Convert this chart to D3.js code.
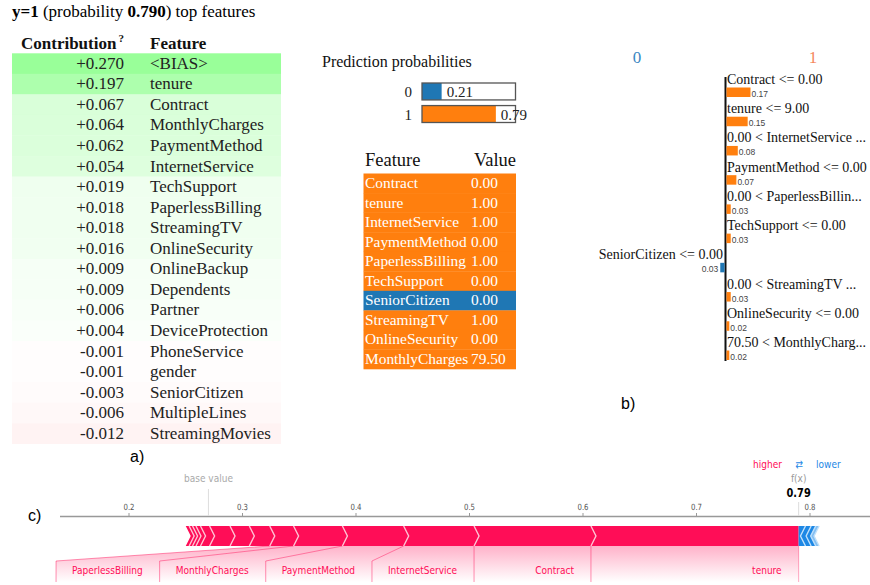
<!DOCTYPE html>
<html>
<head>
<meta charset="utf-8">
<script src="https://cdn.jsdelivr.net/npm/d3@7"></script>
<style>
  html, body { margin: 0; padding: 0; background: #fff; }
  svg { display: block; }
</style>
</head>
<body>
<svg id="chart" width="870" height="585"></svg>
<script>
// ---------------- DATA ----------------
// a) eli5 contributions
const contribFeatures = ["<BIAS>", "tenure", "Contract", "MonthlyCharges", "PaymentMethod", "InternetService",
  "TechSupport", "PaperlessBilling", "StreamingTV", "OnlineSecurity", "OnlineBackup", "Dependents", "Partner",
  "DeviceProtection", "PhoneService", "gender", "SeniorCitizen", "MultipleLines", "StreamingMovies"];
const contribValues = [0.270, 0.197, 0.067, 0.064, 0.062, 0.054, 0.019, 0.018, 0.018, 0.016, 0.009, 0.009, 0.006,
  0.004, -0.001, -0.001, -0.003, -0.006, -0.012];

// LIME prediction probabilities
const probClasses = ["0", "1"];
const probValues = [0.21, 0.79];

// LIME feature / value table
const valueFeatures = ["Contract", "tenure", "InternetService", "PaymentMethod", "PaperlessBilling", "TechSupport",
  "SeniorCitizen", "StreamingTV", "OnlineSecurity", "MonthlyCharges"];
const valueValues = ["0.00", "1.00", "1.00", "0.00", "1.00", "0.00", "0.00", "1.00", "0.00", "79.50"];

// b) LIME explanation
const limeClasses = ["0", "1"];
const limeRules = ["Contract <= 0.00", "tenure <= 9.00", "0.00 < InternetService ...", "PaymentMethod <= 0.00",
  "0.00 < PaperlessBillin...", "TechSupport <= 0.00", "SeniorCitizen <= 0.00", "0.00 < StreamingTV ...",
  "OnlineSecurity <= 0.00", "70.50 < MonthlyCharg..."];
const limeWeights = [0.17, 0.15, 0.08, 0.07, 0.03, 0.03, -0.03, 0.03, 0.02, 0.02];

// c) SHAP force plot
const shapBase = 0.27;
const shapFx = 0.79;
const shapPosNames = ["tenure", "Contract", "InternetService", "PaymentMethod", "MonthlyCharges", "PaperlessBilling",
  "TechSupport", "StreamingTV", "OnlineSecurity", "OnlineBackup", "Dependents", "Partner", "DeviceProtection", "SeniorCitizen"];
const shapPosValues = [0.183, 0.103, 0.062, 0.054, 0.043, 0.021, 0.018, 0.017, 0.018, 0.008, 0.004, 0.003, 0.003, 0.003];
const shapNegNames = ["StreamingMovies", "MultipleLines", "gender", "PhoneService"];
const shapNegValues = [0.006, 0.005, 0.004, 0.003];
const shapTicks = [0.2, 0.3, 0.4, 0.5, 0.6, 0.7, 0.8];
const shapLabelMin = 0.02;

// ---------------- DRAWING ----------------
const svg = d3.select("#chart");
const SERIF = "'Liberation Serif', 'Times New Roman', serif";
const SANS = "'Liberation Sans', Arial, sans-serif";
const DEJAVU = "'DejaVu Sans', sans-serif";
const BLUE = "#1f77b4", ORANGE = "#ff7f0e";

// ===== Panel a =====
const gA = svg.append("g");
const title = gA.append("text").attr("x", 12).attr("y", 17)
  .attr("font-family", SERIF).attr("font-size", 17).attr("fill", "#000");
title.append("tspan").attr("font-weight", "bold").text("y=1");
title.append("tspan").text(" (probability ");
title.append("tspan").attr("font-weight", "bold").text("0.790");
title.append("tspan").text(") top features");

const hdr = gA.append("text").attr("x", 21).attr("y", 49)
  .attr("font-family", SERIF).attr("font-size", 17).attr("font-weight", "bold").attr("fill", "#111");
hdr.append("tspan").text("Contribution");
hdr.append("tspan").attr("font-size", 11).attr("dy", -7).attr("dx", 2).text("?");
gA.append("text").attr("x", 150).attr("y", 49)
  .attr("font-family", SERIF).attr("font-size", 17).attr("font-weight", "bold").attr("fill", "#111")
  .text("Feature");

const rowA = d3.scaleBand().domain(d3.range(contribValues.length)).range([53.3, 53.3 + 20.55 * contribValues.length]).padding(0);
const maxW = d3.max(contribValues, v => Math.abs(v));
const lightness = v => 100 - 20 * Math.pow(Math.abs(v) / maxW, 0.7);
const fmtContrib = v => (v >= 0 ? "+" : "-") + Math.abs(v).toFixed(3);

const rowsA = gA.selectAll("g.rowA").data(contribValues).join("g").attr("class", "rowA");
rowsA.append("rect").attr("x", 12).attr("y", (d, i) => rowA(i)).attr("width", 269).attr("height", rowA.bandwidth() + 0.3)
  .attr("fill", d => `hsl(${d >= 0 ? 120 : 0}, 100%, ${lightness(d)}%)`);
rowsA.append("text").attr("x", 124).attr("y", (d, i) => rowA(i) + 15.5).attr("text-anchor", "end")
  .attr("font-family", SERIF).attr("font-size", 17).attr("fill", "#222").text(d => fmtContrib(d));
rowsA.append("text").attr("x", 150).attr("y", (d, i) => rowA(i) + 15.5)
  .attr("font-family", SERIF).attr("font-size", 17).attr("fill", "#222").text((d, i) => contribFeatures[i]);

gA.append("text").attr("x", 130).attr("y", 462).attr("font-family", SANS).attr("font-size", 16).text("a)");

// ===== Middle panel: prediction probabilities =====
const gM = svg.append("g");
gM.append("text").attr("x", 322).attr("y", 67).attr("font-family", SERIF).attr("font-size", 16).attr("fill", "#111")
  .text("Prediction probabilities");
const probX = d3.scaleLinear().domain([0, 1]).range([422, 515.5]);
const probY = d3.scaleBand().domain(probClasses).range([83, 122.5]).paddingInner(0.25);
const probColor = d3.scaleOrdinal().domain(probClasses).range([BLUE, ORANGE]);
const pr = gM.selectAll("g.prob").data(probValues).join("g").attr("class", "prob");
pr.append("rect").attr("x", probX(0)).attr("y", (d, i) => probY(probClasses[i]))
  .attr("width", (d, i) => probX(d) - probX(0)).attr("height", probY.bandwidth())
  .attr("fill", (d, i) => probColor(probClasses[i]));
pr.append("rect").attr("x", probX(0)).attr("y", (d, i) => probY(probClasses[i]))
  .attr("width", probX(1) - probX(0)).attr("height", probY.bandwidth())
  .attr("fill", "none").attr("stroke", "#555").attr("stroke-width", 1.3);
pr.append("text").attr("x", d => probX(d) + 5).attr("y", (d, i) => probY(probClasses[i]) + 14)
  .attr("font-family", SERIF).attr("font-size", 15).attr("fill", "#222").text(d => d.toFixed(2));
pr.append("text").attr("x", 412).attr("y", (d, i) => probY(probClasses[i]) + 14).attr("text-anchor", "end")
  .attr("font-family", SERIF).attr("font-size", 15).attr("fill", "#222").text((d, i) => probClasses[i]);

// Feature / Value table
gM.append("text").attr("x", 365).attr("y", 166).attr("font-family", SERIF).attr("font-size", 18.5).attr("fill", "#111").text("Feature");
gM.append("text").attr("x", 516).attr("y", 166).attr("text-anchor", "end").attr("font-family", SERIF).attr("font-size", 18.5).attr("fill", "#111").text("Value");
const rowV = d3.scaleBand().domain(d3.range(valueFeatures.length)).range([173.5, 369]);
const vr = gM.selectAll("g.vrow").data(valueFeatures).join("g").attr("class", "vrow");
vr.append("rect").attr("x", 363.5).attr("y", (d, i) => rowV(i)).attr("width", 152.5).attr("height", rowV.bandwidth() + 0.3)
  .attr("fill", (d, i) => limeWeights[limeRules.findIndex(r => r.includes(d))] < 0 ? BLUE : ORANGE);
vr.append("text").attr("x", 365).attr("y", (d, i) => rowV(i) + 14.5)
  .attr("font-family", SERIF).attr("font-size", 15.4).attr("fill", "#fff").text(d => d);
vr.append("text").attr("x", 471).attr("y", (d, i) => rowV(i) + 14.5)
  .attr("font-family", SERIF).attr("font-size", 15.4).attr("fill", "#fff").text((d, i) => valueValues[i]);

// ===== Panel b: LIME explanation =====
const gB = svg.append("g");
const axisX = 725.5;
gB.append("text").attr("x", 637).attr("y", 63).attr("text-anchor", "middle").attr("font-family", SERIF).attr("font-size", 17)
  .attr("fill", "#3a87c2").text(limeClasses[0]);
gB.append("text").attr("x", 813).attr("y", 63).attr("text-anchor", "middle").attr("font-family", SERIF).attr("font-size", 17)
  .attr("fill", "#f5875e").text(limeClasses[1]);
const rowB = d3.scalePoint().domain(d3.range(limeRules.length)).range([84, 347]);
const wScale = d3.scaleLinear().domain([0, d3.max(limeWeights, w => Math.abs(w))]).range([0, 24]);
gB.append("line").attr("x1", axisX).attr("x2", axisX).attr("y1", 77).attr("y2", 361).attr("stroke", "#111").attr("stroke-width", 2);
const lr = gB.selectAll("g.lrow").data(limeWeights).join("g").attr("class", "lrow");
lr.append("text")
  .attr("x", d => d >= 0 ? axisX + 1.5 : axisX - 2.5)
  .attr("y", (d, i) => rowB(i))
  .attr("text-anchor", d => d >= 0 ? "start" : "end")
  .attr("font-family", SERIF).attr("font-size", 14).attr("fill", "#111").text((d, i) => limeRules[i]);
lr.append("rect")
  .attr("x", d => d >= 0 ? axisX + 1 : axisX - 1 - wScale(-d))
  .attr("y", (d, i) => rowB(i) + 3.5).attr("height", 9.5)
  .attr("width", d => wScale(Math.abs(d)))
  .attr("fill", d => d >= 0 ? ORANGE : BLUE);
lr.append("text")
  .attr("x", d => d >= 0 ? axisX + 2 + wScale(d) : axisX - 3 - wScale(-d))
  .attr("y", (d, i) => rowB(i) + 13)
  .attr("text-anchor", d => d >= 0 ? "start" : "end")
  .attr("font-family", SANS).attr("font-size", 8.5).attr("fill", "#444").text(d => Math.abs(d).toFixed(2));
gB.append("text").attr("x", 621).attr("y", 409).attr("font-family", SANS).attr("font-size", 16).text("b)");

// ===== Panel c: SHAP force plot =====
const gC = svg.append("g");
const SQ = 0.82;
const sx = d3.scaleLinear().domain([0.2, 0.8]).range([129, 810]);
const barTop = 526, barBot = 546, barMid = (barTop + barBot) / 2, chev = 5;
const PINK = "#ff0d57", SBLUE = "#1e88e5";

const defs = svg.append("defs");
const grad = defs.append("linearGradient").attr("id", "lblGrad").attr("x1", 0).attr("y1", 0).attr("x2", 0).attr("y2", 1);
grad.append("stop").attr("offset", "0%").attr("stop-color", PINK).attr("stop-opacity", 0.32);
grad.append("stop").attr("offset", "100%").attr("stop-color", PINK).attr("stop-opacity", 0);

function sqText(g, x, y, str, opts) {
  const t = g.append("text").attr("transform", `translate(${x},${y}) scale(${SQ},1)`)
    .attr("font-family", DEJAVU).attr("font-size", opts.size || 11).attr("fill", opts.fill || "#333")
    .attr("text-anchor", opts.anchor || "middle");
  if (opts.weight) t.attr("font-weight", opts.weight);
  t.text(str);
  return t;
}

// axis
gC.append("line").attr("x1", 60).attr("x2", 870).attr("y1", 516.5).attr("y2", 516.5).attr("stroke", "#999").attr("stroke-width", 1.5);
shapTicks.forEach(t => {
  gC.append("line").attr("x1", sx(t)).attr("x2", sx(t)).attr("y1", 513).attr("y2", 516.5).attr("stroke", "#999").attr("stroke-width", 1);
  sqText(gC, sx(t), 509.5, t.toFixed(1), { size: 8.5, fill: "#555" });
});
// base value
gC.append("line").attr("x1", sx(shapBase)).attr("x2", sx(shapBase)).attr("y1", 489).attr("y2", 516).attr("stroke", "#ddd").attr("stroke-width", 1);
sqText(gC, sx(shapBase), 482, "base value", { size: 11, fill: "#aaa" });
// f(x)
gC.append("line").attr("x1", sx(shapFx)).attr("x2", sx(shapFx)).attr("y1", 502).attr("y2", 516).attr("stroke", "#ddd").attr("stroke-width", 1);
sqText(gC, sx(shapFx), 482, "f(x)", { size: 11, fill: "#999" });
sqText(gC, sx(shapFx), 497, shapFx.toFixed(2), { size: 12, fill: "#000", weight: "bold" });
sqText(gC, 782, 468, "higher", { size: 11, fill: PINK, anchor: "end" });
sqText(gC, 799, 468, "\u21c4", { size: 11, fill: SBLUE });
sqText(gC, 816, 468, "lower", { size: 11, fill: SBLUE, anchor: "start" });

// positive segments (from f(x) leftwards)
const posSegs = [];
let cur = shapFx;
shapPosValues.forEach((v, i) => {
  posSegs.push({ name: shapPosNames[i], value: v, hi: cur, lo: cur - v, idx: i });
  cur -= v;
});
// negative segments (from f(x) rightwards)
const negSegs = [];
cur = shapFx;
shapNegValues.forEach((v, i) => {
  negSegs.push({ name: shapNegNames[i], value: v, lo: cur, hi: cur + v, idx: i });
  cur += v;
});

// label regions first (under the bar)
const gLbl = gC.append("g");
let prevLeft = sx(shapFx);
posSegs.filter(s => s.value > shapLabelMin).forEach(s => {
  const segL = sx(s.lo), segR = sx(s.hi);
  const boxR = Math.min(segR, prevLeft);
  const t = sqText(gLbl, boxR - 17, 574, s.name, { size: 11, fill: PINK, anchor: "end" });
  const tw = t.node().getComputedTextLength() * SQ;
  const boxL = Math.min(segL, boxR - tw - 33);
  const lblTop = 561, lblBot = 582;
  gLbl.insert("path", "text")
    .attr("d", `M${segL},${barBot} L${segR},${barBot} L${boxR},${boxL === segL && boxR === segR ? barBot : lblTop} L${boxR},${lblBot} L${boxL},${lblBot} L${boxL},${boxL === segL ? barBot : lblTop} Z`)
    .attr("fill", "url(#lblGrad)").attr("stroke", "none");
  gLbl.insert("path", "text")
    .attr("d", `M${segL},${barBot} L${boxL},${boxL === segL ? barBot : lblTop} L${boxL},${lblBot}`)
    .attr("fill", "none").attr("stroke", PINK).attr("stroke-opacity", 0.45).attr("stroke-width", 1);
  if (s.idx === 0) {
    gLbl.insert("path", "text").attr("d", `M${segR},${barBot} L${boxR},${lblBot}`)
      .attr("fill", "none").attr("stroke", PINK).attr("stroke-opacity", 0.35).attr("stroke-width", 1);
  }
  prevLeft = boxL;
});

// positive polygons
const gBar = gC.append("g");
posSegs.forEach(s => {
  const a = sx(s.lo), b = sx(s.hi);
  const rightTip = s.idx === 0 ? `L${b},${barBot}` : `L${b + chev},${barMid} L${b},${barBot}`;
  gBar.append("path")
    .attr("d", `M${a},${barTop} L${b},${barTop} ${rightTip} L${a},${barBot} L${a + chev},${barMid} Z`)
    .attr("fill", PINK);
});
posSegs.forEach(s => {
  if (s.idx === 0) return;
  const b = sx(s.hi);
  gBar.append("path").attr("d", `M${b},${barTop} L${b + chev},${barMid} L${b},${barBot}`)
    .attr("fill", "none").attr("stroke", "#ffc2d3").attr("stroke-width", 1.4);
});
// negative polygons
negSegs.forEach(s => {
  const a = sx(s.lo), b = sx(s.hi);
  const leftTip = s.idx === 0 ? `L${a},${barTop}` : `L${a - chev},${barMid} L${a},${barTop}`;
  gBar.append("path")
    .attr("d", `M${a},${barBot} ${leftTip} L${b},${barTop} L${b - chev},${barMid} L${b},${barBot} Z`)
    .attr("fill", SBLUE).attr("fill-opacity", s.idx === negSegs.length - 1 ? 0.55 : 1);
});
negSegs.forEach(s => {
  const b = sx(s.hi);
  gBar.append("path").attr("d", `M${b},${barTop} L${b - chev},${barMid} L${b},${barBot}`)
    .attr("fill", "none").attr("stroke", "#bfe0fb").attr("stroke-width", 1.4);
});

gC.append("text").attr("x", 28).attr("y", 521).attr("font-family", SANS).attr("font-size", 16).text("c)");
</script>
</body>
</html>
